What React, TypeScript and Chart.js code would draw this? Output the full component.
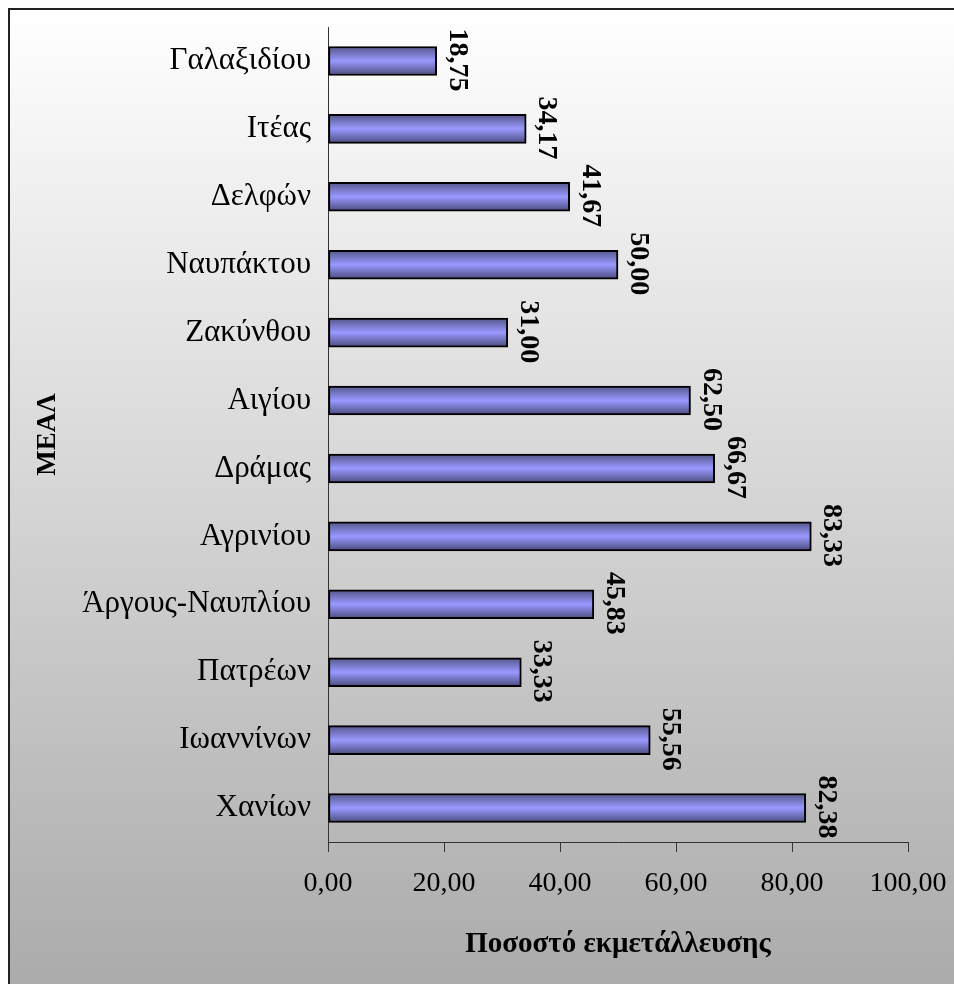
import React, { useEffect, useRef } from "react";
import { Chart, registerables } from "chart.js";

Chart.register(...registerables);

const categories = [
  "Γαλαξιδίου",
  "Ιτέας",
  "Δελφών",
  "Ναυπάκτου",
  "Ζακύνθου",
  "Αιγίου",
  "Δράμας",
  "Αγρινίου",
  "Άργους-Ναυπλίου",
  "Πατρέων",
  "Ιωαννίνων",
  "Χανίων",
];
const values = [18.75, 34.17, 41.67, 50.0, 31.0, 62.5, 66.67, 83.33, 45.83, 33.33, 55.56, 82.38];
const xTitle = "Ποσοστό εκμετάλλευσης";
const yTitle = "ΜΕΑΛ";

const FONT = "'Liberation Serif', 'Times New Roman', serif";
const fmt = (v: number) => v.toFixed(2).replace(".", ",");

const bgPlugin = {
  id: "bgFrame",
  beforeDraw(chart: any) {
    const { ctx, width, height } = chart;
    ctx.save();
    const g = ctx.createLinearGradient(0, 0, 0, height);
    g.addColorStop(0, "#ffffff");
    g.addColorStop(1, "#ababab");
    ctx.fillStyle = g;
    ctx.fillRect(0, 0, width, height);
    ctx.strokeStyle = "#222";
    ctx.lineWidth = 2;
    ctx.beginPath();
    ctx.moveTo(1, height);
    ctx.lineTo(1, 1);
    ctx.lineTo(width, 1);
    ctx.stroke();
    ctx.restore();
  },
};

const labelPlugin = {
  id: "barLabels",
  afterDatasetsDraw(chart: any) {
    const { ctx } = chart;
    const meta = chart.getDatasetMeta(0);
    ctx.save();
    ctx.fillStyle = "#000";
    ctx.font = `bold 28px ${FONT}`;
    ctx.textAlign = "center";
    ctx.textBaseline = "alphabetic";
    meta.data.forEach((bar: any, i: number) => {
      ctx.save();
      ctx.translate(bar.x + 13, bar.y - 1);
      ctx.rotate(Math.PI / 2);
      ctx.fillText(fmt(values[i]), 0, 0);
      ctx.restore();
    });
    ctx.restore();
  },
};

export default function App() {
  const ref = useRef<HTMLCanvasElement>(null);
  useEffect(() => {
    if (!ref.current) return;
    const chart = new Chart(ref.current, {
      type: "bar",
      data: {
        labels: categories,
        datasets: [
          {
            data: values,
            barThickness: 29,
            borderColor: "#000",
            borderWidth: 2,
            borderSkipped: false,
            backgroundColor: (c: any) => {
              const ch = c.chart;
              if (!ch.chartArea || c.dataIndex === undefined || !ch.scales.y) return "#9999ff";
              const yc = ch.scales.y.getPixelForValue(c.dataIndex);
              const g = ch.ctx.createLinearGradient(0, yc - 14.5, 0, yc + 14.5);
              g.addColorStop(0, "#55558a");
              g.addColorStop(0.5, "#9999ff");
              g.addColorStop(1, "#4a4a7c");
              return g;
            },
          },
        ],
      },
      options: {
        indexAxis: "y",
        responsive: false,
        animation: false,
        layout: { padding: { top: 19, right: 46, left: 0, bottom: 0 } },
        plugins: { legend: { display: false }, tooltip: { enabled: false } },
        scales: {
          x: {
            min: 0,
            max: 100,
            afterFit: (s: any) => {
              s.height = 142;
              s.paddingLeft = 0;
              s.paddingRight = 0;
            },
            ticks: {
              stepSize: 20,
              color: "#000",
              padding: 15,
              font: { family: FONT, size: 28 },
              callback: (v: any) => fmt(Number(v)),
            },
            grid: {
              display: true,
              drawOnChartArea: false,
              drawTicks: true,
              tickLength: 10,
              color: "#333",
              lineWidth: 1,
            },
            border: { display: true, color: "#333", width: 1 },
            title: {
              display: true,
              text: xTitle,
              color: "#000",
              font: { family: FONT, size: 29, weight: "bold" },
              padding: { top: 0, bottom: 22 },
            },
          },
          y: {
            afterFit: (s: any) => {
              s.width = 320;
              s.paddingTop = 0;
              s.paddingBottom = 0;
            },
            ticks: {
              color: "#000",
              padding: 17,
              font: { family: FONT, size: 31 },
            },
            grid: { display: true, drawOnChartArea: false, drawTicks: false },
            border: { display: true, color: "#333", width: 1 },
            title: {
              display: true,
              text: yTitle,
              color: "#000",
              font: { family: FONT, size: 27, weight: "bold" },
              padding: { top: 24, bottom: 0 },
            },
          },
        },
      },
      plugins: [bgPlugin, labelPlugin],
    } as any);
    return () => chart.destroy();
  }, []);
  return (
    <div style={{ position: "fixed", left: 8, top: 8, width: 946, height: 976 }}>
      <canvas ref={ref} width={946} height={976} style={{ display: "block" }} />
    </div>
  );
}
